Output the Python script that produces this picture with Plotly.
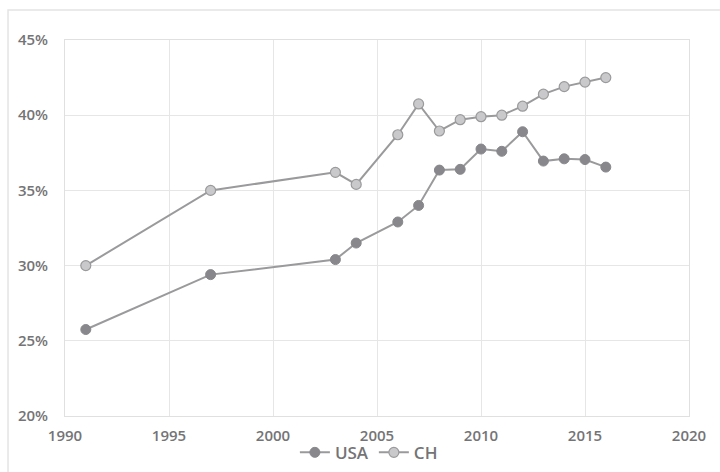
import plotly.graph_objects as go

years_usa = [1991, 1997, 2003, 2004, 2006, 2007, 2008, 2009, 2010, 2011, 2012, 2013, 2014, 2015, 2016]
usa = [25.75, 29.4, 30.4, 31.5, 32.9, 34.0, 36.35, 36.4, 37.75, 37.6, 38.9, 36.95, 37.1, 37.05, 36.55]
years_ch = [1991, 1997, 2003, 2004, 2006, 2007, 2008, 2009, 2010, 2011, 2012, 2013, 2014, 2015, 2016]
ch = [30.0, 35.0, 36.2, 35.4, 38.7, 40.75, 38.95, 39.7, 39.9, 40.0, 40.6, 41.4, 41.9, 42.2, 42.5]
x_ticks = [1990, 1995, 2000, 2005, 2010, 2015, 2020]
y_ticks = [20, 25, 30, 35, 40, 45]

fig = go.Figure()
fig.add_trace(go.Scatter(
    x=years_usa, y=usa, name="USA", mode="lines+markers",
    line=dict(color="#9a9a9c", width=2),
    marker=dict(size=10, color="#88888c", line=dict(color="#88888c", width=1)),
))
fig.add_trace(go.Scatter(
    x=years_ch, y=ch, name="CH", mode="lines+markers",
    line=dict(color="#9a9a9c", width=2),
    marker=dict(size=10, color="#c9c9cb", line=dict(color="#9a9a9c", width=1.2)),
))

font_family = "Open Sans, Lato, sans-serif"
label_color = "#747476"
fig.update_layout(
    width=720, height=472,
    margin=dict(l=65, r=31, t=40, b=56, autoexpand=False),
    plot_bgcolor="white", paper_bgcolor="white",
    showlegend=True,
    legend=dict(orientation="h", x=0.487, xanchor="center", y=-0.05, yanchor="top",
                font=dict(family=font_family, size=17, color=label_color, weight=600),
                itemwidth=30, tracegroupgap=0, bgcolor="rgba(0,0,0,0)"),
    font=dict(family=font_family, color=label_color),
    shapes=[dict(type="rect", xref="paper", yref="paper",
                 x0=-0.0913, x1=1.07, y0=-0.2, y1=1.0798,
                 line=dict(color="#e4e4e4", width=1.5), layer="above")],
)
fig.update_xaxes(
    range=[1990, 2020], tickvals=x_ticks, ticktext=[str(v) for v in x_ticks],
    showgrid=True, gridcolor="#e6e6e6", gridwidth=1,
    showline=True, linecolor="#e0e0e0", linewidth=1, mirror=True,
    zeroline=False, ticks="", ticklabelstandoff=6,
    tickfont=dict(family=font_family, size=15, color=label_color, weight=600),
)
fig.update_yaxes(
    range=[20, 45], tickvals=y_ticks, ticktext=[f"{v}%" for v in y_ticks],
    showgrid=True, gridcolor="#e6e6e6", gridwidth=1,
    showline=True, linecolor="#e0e0e0", linewidth=1, mirror=True,
    zeroline=False, ticks="", ticklabelstandoff=13,
    tickfont=dict(family=font_family, size=15, color=label_color, weight=600),
)

fig.write_html("out.html", config={"displayModeBar": False},
               post_script="document.body.style.margin='0';")
